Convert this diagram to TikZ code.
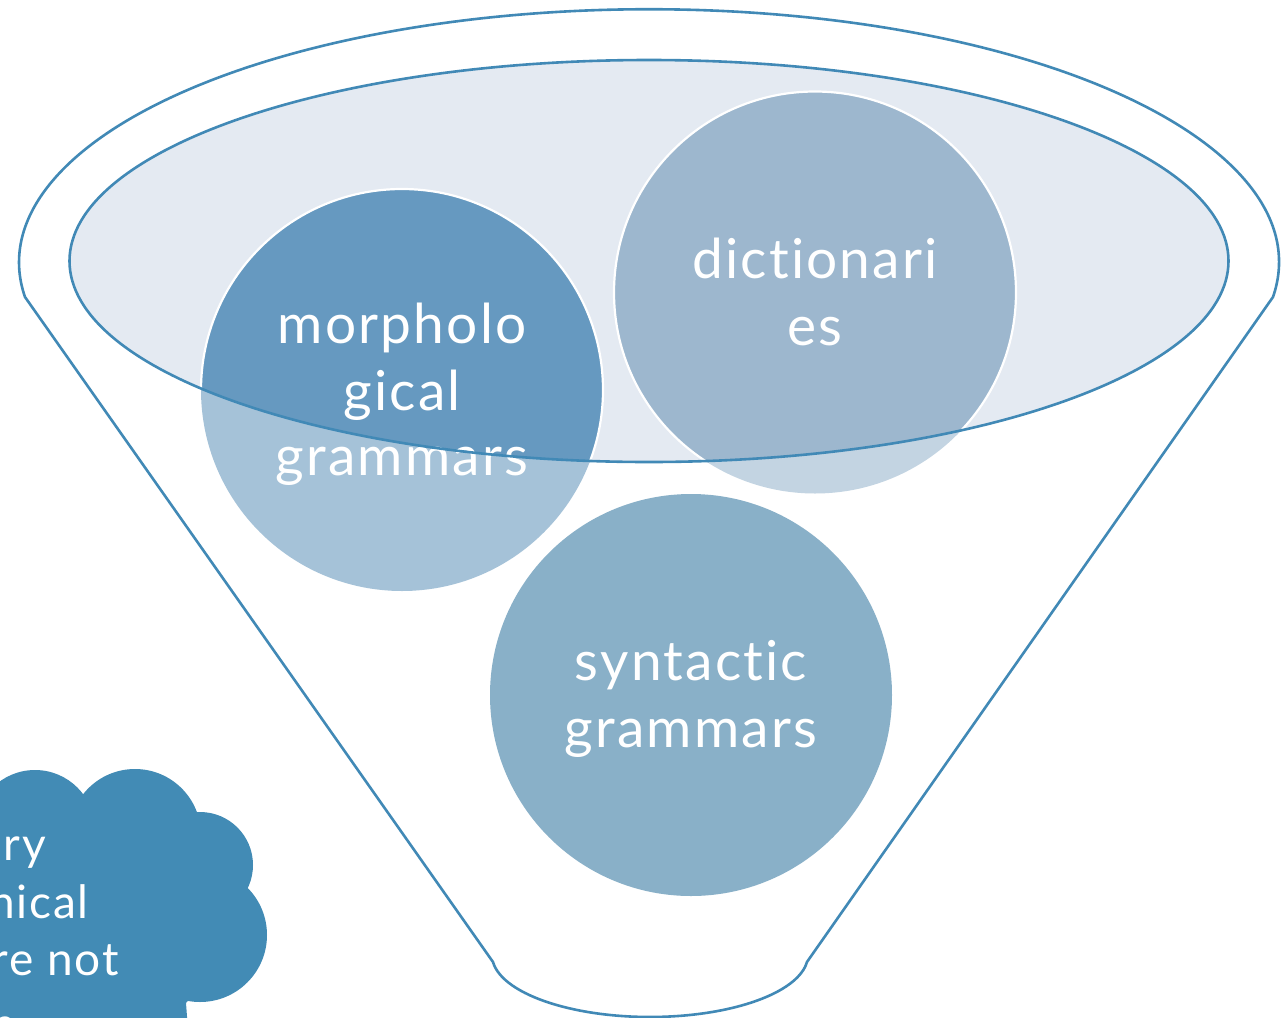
\documentclass[tikz,border=0pt]{standalone}
\usepackage{fontspec}
\setmainfont{Lato}
\newfontfamily\lblfont[LetterSpace=4,Ligatures=NoCommon]{Lato}
\definecolor{edgec}{HTML}{4189B6}
\definecolor{ellfill}{HTML}{E4EAF2}
\definecolor{morphin}{HTML}{6699C0}
\definecolor{morphout}{HTML}{A5C2D8}
\definecolor{dictin}{HTML}{9DB7CE}
\definecolor{dictout}{HTML}{C3D4E2}
\definecolor{synt}{HTML}{89B0C8}
\definecolor{cloudc}{HTML}{428BB5}
\tikzset{
  outline/.style={draw=edgec, line width=2.6pt, line join=round},
  ringwhite/.style={draw=white, line width=2.2pt},
  lbl/.style={text=white, font=\lblfont\fontsize{55}{66}\selectfont, anchor=base, inner sep=0pt},
  cloudlbl/.style={text=white, font=\lblfont\fontsize{46}{58}\selectfont, anchor=base east, inner sep=0pt},
}
\begin{document}
\begin{tikzpicture}[x=1pt,y=1pt]
\useasboundingbox (0,0) rectangle (1286,-1018);
\clip (0,0) rectangle (1286,-1018);
\fill[white] (0,0) rectangle (1286,-1018);
% funnel outline
\draw[outline, fill=white] (25,-297) -- (493,-962)
  arc[start angle=186.5, end angle=353.5, x radius=158, y radius=62]
  -- (1273,-297)
  arc[start angle=-7.9, end angle=187.9, x radius=630, y radius=253] -- cycle;
% inner ellipse fill
\fill[ellfill] (649,-261) ellipse[x radius=579.5, y radius=201];
% circles: outside parts
\fill[morphout] (402,-390) circle[radius=201];
\fill[dictout] (815,-292.5) circle[radius=201];
\fill[synt] (691,-695) circle[radius=201];
% circles: parts inside the ellipse
\begin{scope}
  \clip (649,-261) ellipse[x radius=579.5, y radius=201];
  \fill[morphin] (402,-390) circle[radius=201];
  \fill[dictin] (815,-292.5) circle[radius=201];
  \draw[ringwhite] (402,-390) circle[radius=201];
  \draw[ringwhite] (815,-292.5) circle[radius=201];
\end{scope}
% labels
\node[lbl] (m1) at (402,-343) {morpholo};
\node[lbl] (m2) at (402,-410) {gical};
\node[lbl] (m3) at (402,-475) {grammars};
\node[lbl] (d1) at (815,-278) {dictionari};
\node[lbl] (d2) at (815,-345) {es};
\node[lbl] (s1) at (691,-680) {syntactic};
\node[lbl] (s2) at (691,-747) {grammars};
% inner ellipse border on top
\draw[outline] (649,-261) ellipse[x radius=579.5, y radius=201];
% cloud
\begin{scope}[cloudc]
  \fill (35,-830) circle[radius=60];
  \fill (135,-835) circle[radius=66];
  \fill (200,-865) circle[radius=53];
  \fill (200,-935) circle[radius=67];
  \fill (-10,-790) -- (82,-795) -- (200,-825) -- (240,-880) -- (240,-940)
        -- (186,-1003) -- (188,-1030) -- (-10,-1030) -- cycle;
\end{scope}
\node[cloudlbl] (c1) at (46,-860) {ary};
\node[cloudlbl] (c2) at (89,-918) {phical};
\node[cloudlbl] (c3) at (119,-975) {re not};
\node[cloudlbl] (c4) at (16,-1040) {h};
\end{tikzpicture}
\end{document}
